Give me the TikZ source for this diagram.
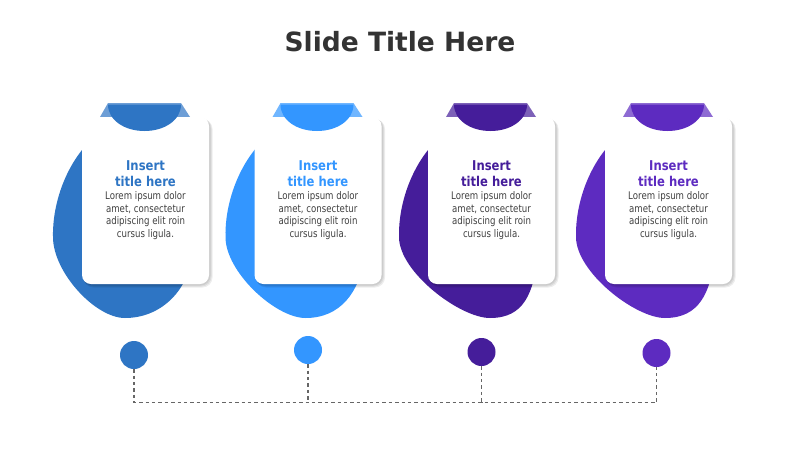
\documentclass[tikz,border=0pt]{standalone}
\usepackage{fontspec}
\setmainfont{DejaVu Sans}
\newfontfamily\bodyfont{DejaVu Sans}[FakeStretch=0.82]
\newfontfamily\headfont{DejaVu Sans}[FakeStretch=0.86]
\definecolor{cA}{HTML}{2E75C4}
\definecolor{cB}{HTML}{3396FF}
\definecolor{cC}{HTML}{451D9A}
\definecolor{cD}{HTML}{5D2BC0}
\definecolor{txt}{HTML}{404040}
\definecolor{ttlgray}{HTML}{333333}
\begin{document}
\begin{tikzpicture}[x=1pt,y=-1pt,
  card/.style={draw=none,fill=white,rounded corners=9pt,minimum width=127pt,minimum height=167pt,inner sep=0pt},
  shade layer/.style={fill=black,opacity=0.07,rounded corners=10pt},
  ttl/.style={font=\headfont\fontsize{13.5}{16}\selectfont\bfseries,align=center,inner sep=0pt},
  body/.style={font=\bodyfont\fontsize{10.5}{12.4}\selectfont,text=txt,align=center,inner sep=0pt},
  dot/.style={circle,minimum size=28pt,inner sep=0pt,draw=none},
  conn/.style={draw=black!60,line width=1.2pt,dash pattern=on 3.4pt off 3pt}]
\useasboundingbox (0,0) rectangle (800,450);
\fill[white] (0,0) rectangle (800,450);
\node[font=\fontsize{26.5}{30}\selectfont\bfseries,text=ttlgray,anchor=base] (title) at (400,51.5) {Slide Title Here};
\foreach \x/\b/\c/\i/\cx/\cy in {82/43/cA/1/134/355, 254.5/51/cB/2/308/350, 428/62/cC/3/481.5/352, 605/60/cD/4/656.5/353}{
  % blob
  \fill[\c] (\x+40,122) .. controls (\x+0,132) and (\x-30,187) .. (\x-29,237)
     .. controls (\x-29,272) and (\x+\b-30,318) .. (\x+\b,318)
     .. controls (\x+\b+35,318) and (\x+105,292) .. (\x+110,257)
     -- (\x+110,137) -- cycle;
  % tab
  \fill[\c!70!white] (\x+26,103) -- (\x+99,103) -- (\x+108,117) -- (\x+18,117) -- cycle;
  % soft shadow
  \fill[shade layer] (\x+0.5,118) rectangle (\x+128.5,285.5);
  \fill[shade layer] (\x+1,118.5) rectangle (\x+129.5,286.5);
  \fill[shade layer] (\x+1.5,119) rectangle (\x+130.5,287.5);
  % card
  \node[card] (k\i) at (\x+63.5,200.5) {};
  % cap
  \fill[\c] (\x+26,104.5) .. controls (\x+26,120) and (\x+42.3,131) .. (\x+62.5,131)
     .. controls (\x+82.7,131) and (\x+99,120) .. (\x+99,104.5) -- cycle;
  % texts
  \node[ttl,text=\c] (t\i) at (\x+63.5,174) {Insert\\title here};
  \node[body] (b\i) at (\x+63.5,215.5) {Lorem ipsum dolor\\amet, consectetur\\adipiscing elit roin\\cursus ligula.};
  % dot
  \node[dot,fill=\c] (c\i) at (\cx,\cy) {};
  \coordinate (d\i) at (\cx,402.5);
}
\draw[conn] (c1) -- (d1) -- (d2) -- (d3) -- (d4) -- (c4);
\draw[conn] (c2) -- (d2);
\draw[conn] (c3) -- (d3);
\end{tikzpicture}
\end{document}
